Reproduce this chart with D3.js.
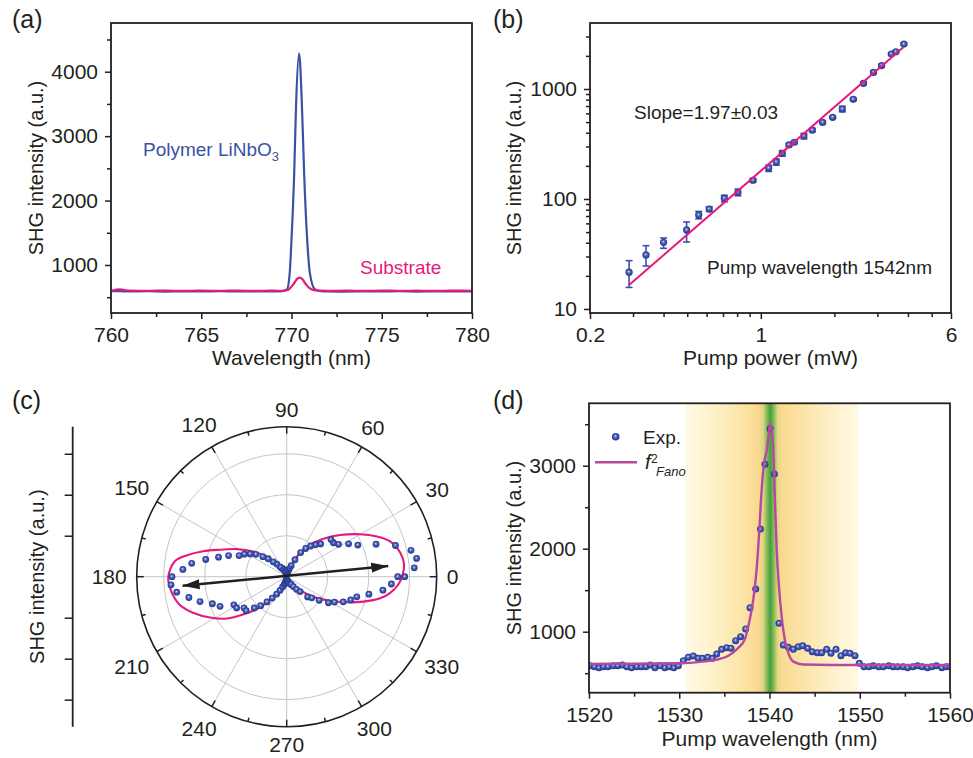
<!DOCTYPE html>
<html>
<head>
<meta charset="utf-8">
<script src="https://cdn.jsdelivr.net/npm/d3@7"></script>
<style>
  body { margin: 0; background: #fff; }
  svg text { font-family: "Liberation Sans", Arial, Helvetica, sans-serif; }
</style>
</head>
<body>
<svg id="fig" width="973" height="758"></svg>
<script>
// ---------- (a) SHG spectra ----------
const aWave = [760, 760.5, 761, 762, 763, 764, 765, 766, 767, 768, 769,
  769.5, 769.75, 769.9, 770, 770.15, 770.25, 770.42, 770.58, 770.7, 770.87, 771.02, 771.3, 771.6,
  772, 773, 774, 775, 776, 777, 778, 779, 780];
const aLiNbO3 = [595, 593, 590, 593, 588, 592, 590, 594, 589, 592, 590,
  595, 620, 870, 1387, 2422, 3457, 4286, 3457, 2422, 1387, 870, 621, 595,
  590, 588, 592, 589, 593, 588, 591, 590, 592];
const sWave = [760, 760.5, 761, 762, 763, 764, 765, 766, 767, 768, 769,
  769.5, 769.8, 770.1, 770.3, 770.45, 770.6, 770.8, 771, 771.2, 771.5,
  772, 773, 774, 775, 776, 777, 778, 779, 780];
const sSubstrate = [600, 622, 603, 600, 602, 599, 601, 600, 602, 599, 601,
  600, 612, 700, 780, 803, 780, 700, 640, 612, 602,
  600, 601, 599, 602, 600, 601, 599, 601, 600];
const aXTicks = [760, 765, 770, 775, 780];
const aYTicks = [1000, 2000, 3000, 4000];

// ---------- (b) power dependence ----------
const power = [0.289, 0.339, 0.400, 0.497, 0.557, 0.615, 0.709, 0.806, 0.929, 1.077, 1.157, 1.224, 1.304,
  1.371, 1.501, 1.624, 1.790, 1.968, 2.155, 2.39, 2.63, 2.89, 3.12, 3.42, 3.57, 3.85];
const shg = [21.6, 31.0, 40.4, 52.3, 71.6, 81, 101.6, 115, 148, 191, 217, 260, 310,
  328, 373, 423, 497, 553, 658, 805, 1126, 1416, 1633, 2080, 2180, 2560];
const shgLo = [15.7, 24.6, 35.6, 40.6, 66, 77, 94, 107, 143, 178, 203, 245, 300,
  318, 352, 408, 485, 540, 620, 785, 1095, 1380, 1590, 2030, 2130, 2500];
const shgHi = [27.5, 37.6, 44.2, 61.8, 77, 85, 108, 123, 153, 203, 231, 275, 320,
  338, 394, 438, 510, 566, 696, 825, 1157, 1452, 1676, 2130, 2230, 2620];
const fitPower = [0.289, 3.83];
const fitShg = [16.5, 2393];
const bXTicks = [0.2, 1, 6];
const bYTicks = [10, 100, 1000];

// ---------- (c) polar dependence ----------
const polarAngle = [0, 4, 8, 12, 16, 20, 24, 28, 32, 36, 40, 44, 48, 52, 56, 60, 64, 68, 72, 76, 80, 84, 88,
  92, 96, 100, 104, 108, 112, 116, 120, 124, 128, 132, 136, 140, 144, 148, 152, 156, 160, 164, 168, 172, 176,
  180, 184, 188, 192, 196, 200, 204, 208, 212, 216, 220, 224, 228, 232, 236, 240, 244, 248, 252, 256, 260, 264, 268,
  272, 276, 280, 284, 288, 292, 296, 300, 304, 308, 312, 316, 320, 324, 328, 332, 336, 340, 344, 348, 352, 356, 360];
const polarShg = [2.88, 3.12, 3.20, 3.10, 2.76, 2.32, 1.90, 1.71, 1.49, 1.41, 1.41, 1.15, 1.05, 0.95, 0.83, 0.68, 0.46, 0.29, 0.20, 0.15, 0.10, 0.07, 0.07,
  0.07, 0.07, 0.10, 0.12, 0.15, 0.17, 0.22, 0.24, 0.29, 0.39, 0.49, 0.63, 0.76, 0.93, 1.05, 1.17, 1.27, 1.51, 1.73, 2.02, 2.34, 2.54,
  2.80, 2.83, 2.71, 2.44, 2.20, 1.93, 1.78, 1.46, 1.44, 1.29, 1.29, 1.10, 0.95, 0.78, 0.63, 0.49, 0.37, 0.27, 0.20, 0.15, 0.10, 0.07, 0.07,
  0.07, 0.10, 0.10, 0.12, 0.15, 0.17, 0.20, 0.22, 0.29, 0.39, 0.49, 0.71, 0.80, 0.98, 1.20, 1.32, 1.51, 1.66, 1.78, 2.05, 2.37, 2.56, 2.71];
const fitRightAngle = [-53, -45, -37, -29, -23, -18, -13, -9, -4, 1, 6, 12, 19, 24, 30, 38, 46, 54, 62, 66];
const fitRightR = [0.20, 0.46, 0.81, 1.21, 1.60, 1.97, 2.34, 2.55, 2.73, 2.83, 2.88, 2.83, 2.66, 2.41, 2.07, 1.65, 1.29, 0.96, 0.60, 0.40];
const fitLeftAngle = [127, 135, 143, 151, 158, 163, 168, 172, 178, 182, 188, 195, 201, 208, 215, 221, 228, 235, 243];
const fitLeftR = [0.41, 0.69, 1.02, 1.39, 1.76, 2.13, 2.50, 2.75, 2.87, 2.89, 2.83, 2.69, 2.45, 2.12, 1.78, 1.41, 1.04, 0.64, 0.27];
const arrowAngle = [185, 6];
const arrowR = [2.55, 2.49];
const polarLabels = [0, 30, 60, 90, 120, 150, 180, 210, 240, 270, 300, 330];

// ---------- (d) wavelength scan ----------
const dWave = [1520.1, 1520.6, 1521.1, 1521.6, 1522.1, 1522.7, 1523.2, 1523.7, 1524.2, 1524.7,
  1525.3, 1525.8, 1526.3, 1526.8, 1527.3, 1527.9, 1528.4, 1528.9, 1529.4, 1529.9,
  1530.45, 1531.0, 1531.56, 1532.1, 1532.56, 1533.15, 1533.67, 1534.15, 1534.7, 1535.26,
  1535.73, 1536.25, 1536.8, 1537.36, 1537.84, 1538.47, 1539.0, 1539.5, 1540.06, 1540.54,
  1541.05, 1541.53, 1542.08, 1542.64, 1543.19, 1543.68, 1544.23, 1544.74, 1545.3, 1545.78,
  1546.34, 1546.81, 1547.37, 1547.92, 1548.44, 1548.92, 1549.47, 1549.95, 1550.47, 1551.02,
  1551.5, 1552.1, 1552.6, 1553.2, 1553.7, 1554.2, 1554.8, 1555.3, 1555.9, 1556.4,
  1556.9, 1557.5, 1558.0, 1558.5, 1559.1, 1559.6, 1560.0];
const dExp = [590, 578, 566, 578, 578, 590, 590, 599, 578, 566,
  578, 578, 578, 599, 566, 590, 566, 578, 566, 590,
  651, 692, 707, 679, 679, 692, 679, 731, 788, 807,
  800, 892, 940, 1033, 1289, 1514, 2237, 3017, 3445, 2900,
  1101, 840, 812, 788, 819, 831, 800, 759, 747, 747,
  788, 740, 788, 711, 747, 740, 711, 619, 578, 578,
  590, 578, 578, 590, 578, 578, 578, 566, 578, 590,
  578, 566, 578, 590, 566, 578, 578];
const fanoWave = [1520, 1525, 1530, 1532.5, 1534.3, 1535.4, 1536.5, 1537.3, 1537.8, 1538.2, 1538.6, 1538.85,
  1539.13, 1539.4, 1539.7, 1540.15, 1540.42, 1540.6, 1540.8, 1541.05, 1541.35, 1541.7, 1542.1, 1542.65, 1543.75, 1550, 1560];
const fanoFit = [612, 615, 619, 639, 667, 707, 800, 920, 1141, 1382, 1783, 2185,
  2707, 3029, 3189, 3510, 3189, 2587, 1984, 1542, 1181, 900, 739, 639, 605, 598, 598];
const bandRange = [1530.7, 1549.8];
const dXTicks = [1520, 1530, 1540, 1550, 1560];
const dYTicks = [1000, 2000, 3000];

const INK = '#231f20';
const BLUE = '#3a52a3';
const PINK = '#e6197d';
const FANO = '#b6489f';

const svg = d3.select('#fig');
const defs = svg.append('defs');

// shaded sphere used for all data points
const ball = defs.append('radialGradient').attr('id', 'ball')
  .attr('cx', '50%').attr('cy', '50%').attr('r', '55%').attr('fx', '45%').attr('fy', '40%');
[[0, '#eef1ff'], [0.22, '#7a8dd8'], [0.55, '#3b50a8'], [1, '#22338a']]
  .forEach(([o, c]) => ball.append('stop').attr('offset', o).attr('stop-color', c));

function clip(id, x, y, w, h) {
  defs.append('clipPath').attr('id', id).append('rect')
    .attr('x', x).attr('y', y).attr('width', w).attr('height', h);
  return `url(#${id})`;
}

function tidy(sel, size) {
  sel.attr('color', INK);
  sel.select('.domain').remove();
  sel.selectAll('line').attr('stroke-width', 1.5);
  sel.selectAll('text').style('font-size', (size || 21) + 'px').attr('fill', INK);
}

// box frame with major + minor ticks on left and bottom
function boxAxes(x, y, o) {
  const [x0, x1] = x.range();
  const [y0, y1] = y.range();
  svg.append('g').attr('transform', `translate(0,${y0})`)
    .call(d3.axisBottom(x).tickValues(o.xMinor).tickSize(4).tickFormat(''))
    .call(tidy);
  svg.append('g').attr('transform', `translate(0,${y0})`)
    .call(d3.axisBottom(x).tickValues(o.xMajor).tickSize(6).tickPadding(8).tickFormat(o.xFormat || d3.format('d')))
    .call(tidy);
  svg.append('g').attr('transform', `translate(${x0},0)`)
    .call(d3.axisLeft(y).tickValues(o.yMinor).tickSize(4).tickFormat(''))
    .call(tidy);
  svg.append('g').attr('transform', `translate(${x0},0)`)
    .call(d3.axisLeft(y).tickValues(o.yMajor).tickSize(6).tickPadding(7).tickFormat(o.yFormat || d3.format('d')))
    .call(tidy);
  svg.append('rect').attr('x', x0).attr('y', y1).attr('width', x1 - x0).attr('height', y0 - y1)
    .attr('fill', 'none').attr('stroke', INK).attr('stroke-width', 1.8);

  svg.append('text').attr('x', (x0 + x1) / 2).attr('y', o.xTitleY).attr('text-anchor', 'middle')
    .style('font-size', '21px').attr('fill', INK).text(o.xTitle);
  svg.append('text').attr('transform', `translate(${o.yTitleX},${(y0 + y1) / 2}) rotate(-90)`)
    .attr('text-anchor', 'middle').style('font-size', '20px').attr('fill', INK).text('SHG intensity (a.u.)');
}

function panelLabel(txt, x, y) {
  svg.append('text').attr('x', x).attr('y', y).style('font-size', '25px').attr('fill', INK).text(txt);
}

/* ---------------- panel (a) ---------------- */
{
  const x = d3.scaleLinear().domain([760, 780]).range([111, 472]);
  const y = d3.scaleLinear().domain([255, 4756]).range([313, 23]);
  const cp = clip('clipA', 111, 23, 361, 290);
  const line = (xs, ys) => d3.line().x((d, i) => x(xs[i])).y(d => y(d)).curve(d3.curveMonotoneX)(ys);

  svg.append('path').attr('d', line(aWave, aLiNbO3)).attr('clip-path', cp)
    .attr('fill', 'none').attr('stroke', BLUE).attr('stroke-width', 2.2);
  svg.append('path').attr('d', line(sWave, sSubstrate)).attr('clip-path', cp)
    .attr('fill', 'none').attr('stroke', PINK).attr('stroke-width', 2.2);

  boxAxes(x, y, {
    xMajor: aXTicks, xMinor: [762.5, 767.5, 772.5, 777.5],
    yMajor: aYTicks, yMinor: [500, 1500, 2500, 3500, 4500],
    xTitle: 'Wavelength (nm)', xTitleY: 365, yTitleX: 43
  });

  const t = svg.append('text').attr('x', 143).attr('y', 156).style('font-size', '19px').attr('fill', BLUE);
  t.append('tspan').text('Polymer LiNbO');
  t.append('tspan').attr('dy', 5).style('font-size', '13px').text('3');
  svg.append('text').attr('x', 360).attr('y', 274).style('font-size', '19px').attr('fill', PINK).text('Substrate');
  panelLabel('(a)', 12, 28);
}

/* ---------------- panel (b) ---------------- */
{
  const x = d3.scaleLog().domain([0.2, 6]).range([590, 951]);
  const y = d3.scaleLog().domain([9.19, 3981]).range([313, 23]);
  const g = svg.append('g');

  const bars = g.selectAll('.err').data(power).join('g').attr('stroke', BLUE).attr('stroke-width', 1.6);
  bars.append('line').attr('x1', d => x(d)).attr('x2', d => x(d))
    .attr('y1', (d, i) => y(shgLo[i])).attr('y2', (d, i) => y(shgHi[i]));
  bars.append('line').attr('x1', d => x(d) - 3.5).attr('x2', d => x(d) + 3.5)
    .attr('y1', (d, i) => y(shgLo[i])).attr('y2', (d, i) => y(shgLo[i]));
  bars.append('line').attr('x1', d => x(d) - 3.5).attr('x2', d => x(d) + 3.5)
    .attr('y1', (d, i) => y(shgHi[i])).attr('y2', (d, i) => y(shgHi[i]));

  g.selectAll('.pt').data(power).join('circle')
    .attr('cx', d => x(d)).attr('cy', (d, i) => y(shg[i])).attr('r', 3.6).attr('fill', 'url(#ball)');

  g.append('path')
    .attr('d', d3.line().x(d => x(d)).y((d, i) => y(fitShg[i]))(fitPower))
    .attr('fill', 'none').attr('stroke', PINK).attr('stroke-width', 2);

  const minorX = [0.3, 0.4, 0.5, 0.6, 0.7, 0.8, 0.9, 2, 3, 4, 5];
  const minorY = [20, 30, 40, 50, 60, 70, 80, 90, 200, 300, 400, 500, 600, 700, 800, 900, 2000, 3000];
  boxAxes(x, y, {
    xMajor: bXTicks, xMinor: minorX, xFormat: d => String(d),
    yMajor: bYTicks, yMinor: minorY, yFormat: d => String(d),
    xTitle: 'Pump power (mW)', xTitleY: 365, yTitleX: 521
  });

  svg.append('text').attr('x', 634).attr('y', 119).style('font-size', '19px').attr('fill', INK).text('Slope=1.97±0.03');
  svg.append('text').attr('x', 707).attr('y', 274).style('font-size', '19px').attr('fill', INK).text('Pump wavelength 1542nm');
  panelLabel('(b)', 493, 28);
}

/* ---------------- panel (c) ---------------- */
{
  const cx = 286.7, cy = 576.7, R = 150;
  const r = d3.scaleLinear().domain([0, 3.66]).range([0, R]);
  const rad = a => a * Math.PI / 180;
  const px = (a, v) => cx + r(v) * Math.cos(rad(a));
  const py = (a, v) => cy - r(v) * Math.sin(rad(a));
  const g = svg.append('g');

  // grid
  g.selectAll('.ring').data([1, 2, 3]).join('circle')
    .attr('cx', cx).attr('cy', cy).attr('r', d => r(d))
    .attr('fill', 'none').attr('stroke', '#c6c6c6').attr('stroke-width', 1);
  g.selectAll('.spoke').data(d3.range(0, 360, 30)).join('line')
    .attr('x1', cx).attr('y1', cy)
    .attr('x2', d => px(d, 3.66)).attr('y2', d => py(d, 3.66))
    .attr('stroke', '#c6c6c6').attr('stroke-width', 1);

  // fitted lobes: each starts and ends at the origin
  const lobe = (angles, rs) => {
    const pts = [[cx, cy]].concat(angles.map((a, i) => [px(a, rs[i]), py(a, rs[i])]), [[cx, cy]]);
    return d3.line().curve(d3.curveCatmullRom)(pts);
  };
  g.append('path').attr('d', lobe(fitRightAngle, fitRightR))
    .attr('fill', 'none').attr('stroke', PINK).attr('stroke-width', 2.1);
  g.append('path').attr('d', lobe(fitLeftAngle, fitLeftR))
    .attr('fill', 'none').attr('stroke', PINK).attr('stroke-width', 2.1);

  g.selectAll('.pt').data(polarAngle).join('circle')
    .attr('cx', (d, i) => px(d, polarShg[i])).attr('cy', (d, i) => py(d, polarShg[i]))
    .attr('r', 3.4).attr('fill', 'url(#ball)');

  // double headed arrow
  defs.append('marker').attr('id', 'head').attr('viewBox', '0 -6 18 12')
    .attr('markerUnits', 'userSpaceOnUse').attr('markerWidth', 18).attr('markerHeight', 12)
    .attr('refX', 17).attr('refY', 0).attr('orient', 'auto-start-reverse')
    .append('path').attr('d', 'M0,-5L17,0L0,5Z').attr('fill', INK);
  g.append('line')
    .attr('x1', px(arrowAngle[0], arrowR[0])).attr('y1', py(arrowAngle[0], arrowR[0]))
    .attr('x2', px(arrowAngle[1], arrowR[1])).attr('y2', py(arrowAngle[1], arrowR[1]))
    .attr('stroke', INK).attr('stroke-width', 2.4)
    .attr('marker-start', 'url(#head)').attr('marker-end', 'url(#head)');

  // outer circle with inward ticks
  g.append('circle').attr('cx', cx).attr('cy', cy).attr('r', R)
    .attr('fill', 'none').attr('stroke', INK).attr('stroke-width', 1.6);
  g.selectAll('.ctick').data(d3.range(0, 360, 15)).join('line')
    .attr('x1', d => px(d, 3.66)).attr('y1', d => py(d, 3.66))
    .attr('x2', d => cx + (R - (d % 30 ? 4 : 7)) * Math.cos(rad(d)))
    .attr('y2', d => cy - (R - (d % 30 ? 4 : 7)) * Math.sin(rad(d)))
    .attr('stroke', INK).attr('stroke-width', 1.5);

  // angle labels
  polarLabels.forEach(a => {
    const t = g.append('text').attr('text-anchor', 'middle').attr('dy', '0.36em')
      .style('font-size', '21px').attr('fill', INK).text(a);
    const w = t.node().getComputedTextLength();
    const c = Math.cos(rad(a)), s = Math.sin(rad(a));
    const d = R + 10 + Math.abs(c) * w / 2 + Math.abs(s) * 7.5;
    t.attr('x', cx + d * c).attr('y', cy - d * s);
  });

  // radial intensity axis on the left
  const yr = d3.scaleLinear().domain([-3.66, 3.66]).range([cy + R, cy - R]);
  svg.append('g').attr('transform', 'translate(72.7,0)')
    .call(d3.axisLeft(yr).tickValues([-3, -2, -1, 1, 2, 3]).tickSize(8).tickFormat(''))
    .call(tidy);
  svg.append('line').attr('x1', 72.7).attr('x2', 72.7).attr('y1', cy - R).attr('y2', cy + R)
    .attr('stroke', INK).attr('stroke-width', 1.8);
  svg.append('text').attr('transform', `translate(44,${cy}) rotate(-90)`)
    .attr('text-anchor', 'middle').style('font-size', '20px').attr('fill', INK).text('SHG intensity (a.u.)');
  panelLabel('(c)', 12, 409);
}

/* ---------------- panel (d) ---------------- */
{
  const x = d3.scaleLinear().domain([1520, 1560]).range([589, 950]);
  const y = d3.scaleLinear().domain([265, 3752]).range([692.7, 403.3]);
  const cp = clip('clipD', 589, 403.3, 361, 289.4);

  // resonance band: yellow fading outward, green at the centre
  const grad = defs.append('linearGradient').attr('id', 'band').attr('x1', '0%').attr('x2', '100%');
  [[0, '#fffae6'], [0.17, '#fef1c8'], [0.33, '#fce4a6'], [0.42, '#fad991'], [0.45, '#dfd584'],
   [0.47, '#8cbd58'], [0.492, '#44a040'], [0.513, '#8cbd58'], [0.534, '#e2d784'], [0.555, '#fad990'],
   [0.70, '#fce6ab'], [0.85, '#fef0c9'], [1, '#fff9e4']]
    .forEach(([o, c]) => grad.append('stop').attr('offset', o).attr('stop-color', c));
  svg.append('rect').attr('x', x(bandRange[0])).attr('y', 403.3)
    .attr('width', x(bandRange[1]) - x(bandRange[0])).attr('height', 289.4).attr('fill', 'url(#band)');

  svg.append('g').attr('clip-path', cp).selectAll('circle').data(dWave).join('circle')
    .attr('cx', d => x(d)).attr('cy', (d, i) => y(dExp[i])).attr('r', 3.5).attr('fill', 'url(#ball)');

  svg.append('path').attr('clip-path', cp)
    .attr('d', d3.line().x(d => x(d)).y((d, i) => y(fanoFit[i])).curve(d3.curveMonotoneX)(fanoWave))
    .attr('fill', 'none').attr('stroke', FANO).attr('stroke-width', 2.4);

  boxAxes(x, y, {
    xMajor: dXTicks, xMinor: [1525, 1535, 1545, 1555],
    yMajor: dYTicks, yMinor: [500, 1500, 2500, 3500],
    xTitle: 'Pump wavelength (nm)', xTitleY: 746, yTitleX: 521
  });

  // legend
  svg.append('circle').attr('cx', 615.7).attr('cy', 436.7).attr('r', 3.8).attr('fill', 'url(#ball)');
  svg.append('text').attr('x', 643).attr('y', 444).style('font-size', '19px').attr('fill', INK).text('Exp.');
  svg.append('line').attr('x1', 595).attr('x2', 637).attr('y1', 462.3).attr('y2', 462.3)
    .attr('stroke', FANO).attr('stroke-width', 2.6);
  svg.append('text').attr('x', 645).attr('y', 469).style('font-size', '20px').style('font-style', 'italic')
    .attr('fill', INK).text('f');
  svg.append('text').attr('x', 651).attr('y', 463).style('font-size', '12px').attr('fill', INK).text('2');
  svg.append('text').attr('x', 656).attr('y', 476).style('font-size', '13px').style('font-style', 'italic')
    .attr('fill', INK).text('Fano');
  panelLabel('(d)', 493, 409);
}
</script>
</body>
</html>
